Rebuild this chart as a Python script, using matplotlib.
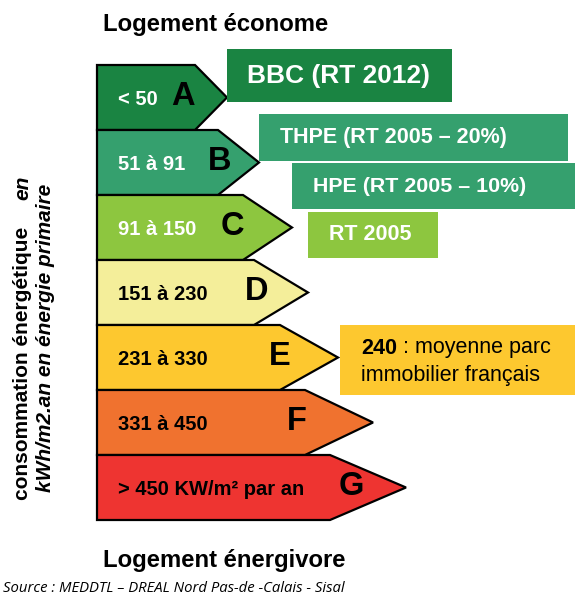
import matplotlib.pyplot as plt
from matplotlib.patches import Polygon, Rectangle

# DPE classes
grades = ["A", "B", "C", "D", "E", "F", "G"]
ranges = ["< 50", "51 à 91", "91 à 150", "151 à 230", "231 à 330", "331 à 450",
          "> 450 KW/m² par an"]
grade_colors = ["#1a8442", "#35a06e", "#8dc63f", "#f4ee9a", "#fdc82f", "#f0722f", "#ee3431"]
range_text_colors = ["white", "white", "white", "black", "black", "black", "black"]

# reference labels next to the arrows
ref_labels = ["BBC (RT 2012)", "THPE (RT 2005 – 20%)", "HPE (RT 2005 – 10%)", "RT 2005"]
ref_colors = ["#1a8442", "#35a06e", "#35a06e", "#8dc63f"]

# layout (pixel coords, y downward)
arrow_left = 97
row_top = 65
row_h = 65
body_right = [195, 218, 243, 254, 280, 305, 330]
tip_x = [227, 259, 292, 308, 338, 373, 406]
letter_x = [183, 220, 232, 257, 280, 297, 351]
ref_boxes = [(227, 49, 225, 53, 247, 19), (259, 114, 309, 47, 280, 15.5),
             (292, 163, 283, 46, 313, 15.4), (308, 212, 130, 46, 329, 15.5)]

fig = plt.figure(figsize=(5.75, 5.96), dpi=100)
ax = fig.add_axes([0, 0, 1, 1])
ax.set_xlim(0, 575)
ax.set_ylim(596, 0)
ax.axis("off")

font = "Liberation Sans"

for i, g in enumerate(grades):
    top = row_top + i * row_h
    bot = top + row_h
    mid = (top + bot) / 2
    pts = [(arrow_left, top), (body_right[i], top), (tip_x[i], mid),
           (body_right[i], bot), (arrow_left, bot)]
    ax.add_patch(Polygon(pts, closed=True, facecolor=grade_colors[i],
                         edgecolor="black", linewidth=1.6, joinstyle="miter"))
    ax.text(118, mid + 2, ranges[i], color=range_text_colors[i], fontsize=14.5,
            fontweight="bold", family=font, ha="left", va="center")
    ax.text(letter_x[i], mid - 1, g, color="black", fontsize=23.5,
            fontweight="bold", family=font, ha="center", va="center")

for (x, y, w, h, tx, fs), lab, c in zip(ref_boxes, ref_labels, ref_colors):
    ax.add_patch(Rectangle((x, y), w, h, facecolor=c, edgecolor="none"))
    ax.text(tx, y + h / 2, lab, color="white", fontsize=fs, fontweight="bold",
            family=font, ha="left", va="center")

# average housing stock box
ax.add_patch(Rectangle((340, 325), 235, 70, facecolor="#fdc82f", edgecolor="none"))
t = ax.text(361, 348, "240", fontsize=15.5, fontweight="bold", family=font,
            ha="left", va="center")
ax.annotate(" : moyenne parc", xycoords=t, xy=(1, 0.5), fontsize=15.5,
            family=font, ha="left", va="center")
ax.text(361, 375, "immobilier français", fontsize=15.5, family=font,
        ha="left", va="center")

ax.text(103, 25, "Logement économe", fontsize=17.2, fontweight="bold",
        family=font, ha="left", va="center")
ax.text(103, 561, "Logement énergivore", fontsize=17.2, fontweight="bold",
        family=font, ha="left", va="center")

# vertical axis label
ax.text(23, 500, "consommation énergétique", rotation=90, rotation_mode="anchor",
        fontsize=15, fontweight="bold", family=font, ha="left", va="center")
ax.text(23, 176, "en", rotation=90, rotation_mode="anchor", fontsize=15,
        fontweight="bold", fontstyle="italic", family=font, ha="right", va="center")
ax.text(46, 338, "kWh/m2.an en énergie primaire", rotation=90,
        rotation_mode="anchor", fontsize=15, fontweight="bold", fontstyle="italic",
        family=font, ha="center", va="center")

ax.text(3, 588, "Source : MEDDTL – DREAL Nord Pas-de -Calais - Sisal", fontsize=10.7,
        fontstyle="italic", family="Open Sans", ha="left", va="center")

fig.savefig("out.png", dpi=100)
